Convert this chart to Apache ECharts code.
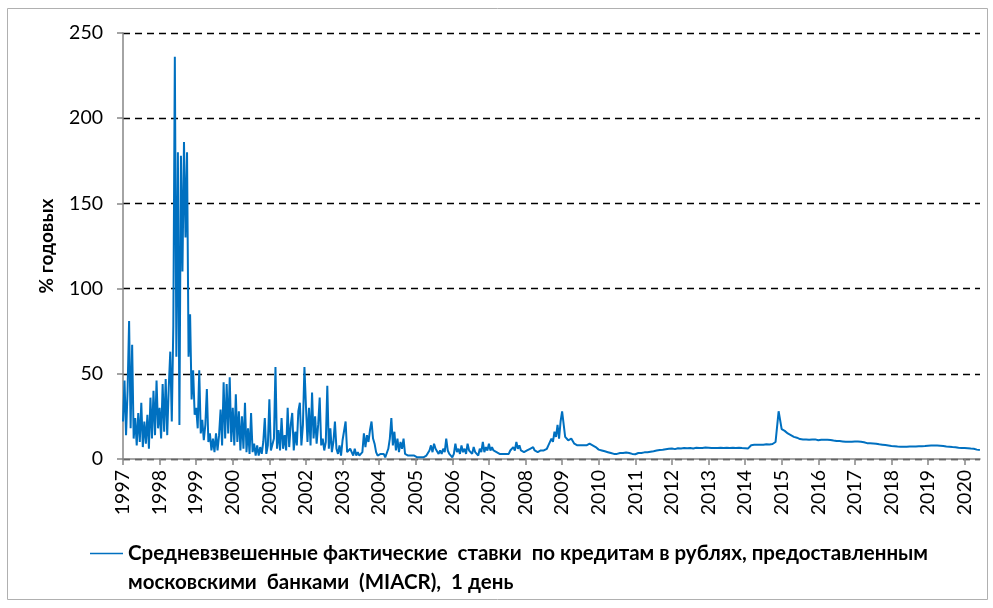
<!DOCTYPE html>
<html>
<head>
<meta charset="utf-8">
<script src="https://cdn.jsdelivr.net/npm/echarts@6/dist/echarts.min.js"></script>
<style>
html, body { margin: 0; padding: 0; background: #fff; }
#main { width: 993px; height: 608px; }
</style>
</head>
<body>
<div id="main"></div>
<script>
// MIACR 1-day rates, % p.a.
// 1997-2008: two values per month (step 1/24 year)
var rates1997 = [22, 46, 14, 40, 81, 18, 67, 12, 24, 8, 27, 10, 33, 7, 22, 9, 26, 6, 36, 12, 40, 14, 46, 18];
var rates1998 = [30, 12, 44, 16, 47, 14, 42, 63, 22, 78, 236, 60, 180, 20, 178, 110, 186, 130, 180, 60, 85, 35, 52, 26];
var rates1999 = [30, 18, 52, 15, 23, 11, 20, 41, 10, 15, 5, 12, 4, 15, 5, 14, 29, 8, 45, 12, 44, 15, 48, 10];
var rates2000 = [30, 8, 38, 10, 28, 5, 25, 6, 33, 4, 18, 3, 27, 4, 9, 2, 8, 2, 7, 3, 10, 24, 3, 8];
var rates2001 = [35, 5, 4, 12, 54, 6, 17, 5, 24, 6, 14, 5, 30, 7, 20, 27, 5, 16, 8, 28, 33, 8, 20, 54];
var rates2002 = [31, 10, 30, 8, 39, 12, 25, 9, 20, 36, 8, 12, 5, 10, 43, 6, 18, 4, 10, 22, 6, 3, 8, 2];
var rates2003 = [11, 12, 22, 4, 3, 6, 5, 2, 6, 2, 4, 2, 3, 4, 15, 7, 14, 10, 17, 22, 12, 9, 4, 2];
var rates2004 = [2, 3, 2, 3, 1, 2, 6, 12, 24, 8, 16, 5, 12, 4, 10, 6, 12, 3, 4, 2, 1, 2, 1, 2];
var rates2005 = [2, 1, 2, 1, 2, 1, 1, 2, 3, 5, 8, 4, 9, 6, 7, 3, 5, 3, 6, 4, 12, 5, 3, 2];
var rates2006 = [1, 3, 9, 4, 6, 3, 8, 4, 6, 3, 9, 5, 6, 3, 7, 4, 5, 2, 6, 4, 10, 4, 7, 5];
var rates2007 = [9, 5, 7, 5, 6, 4, 5, 3, 4, 3, 4, 3, 4, 3, 5, 4, 7, 5, 10, 6, 8, 5, 6, 4];
var rates2008 = [4, 5, 5, 6, 5, 7, 5, 6, 4, 5, 5, 6, 5, 6, 6, 8, 9, 12, 10, 16, 13, 20, 12, 22];
// 2009-2020: monthly
var rates2009 = [28, 13, 11, 12, 9, 8, 8, 8, 8, 9, 8, 7];
var rates2010 = [5.5, 5, 4.5, 4, 3.5, 3, 3, 3.5, 3.5, 3.8, 3.5, 3];
var rates2011 = [2.8, 3.5, 3.5, 3.9, 4, 4.3, 4.5, 5, 5.3, 5.4, 5.7, 6];
var rates2012 = [6.1, 5.8, 6.3, 6.2, 6.4, 6.3, 6.5, 6.2, 6.6, 6.4, 6.5, 6.7];
var rates2013 = [6.6, 6.4, 6.5, 6.5, 6.6, 6.5, 6.6, 6.5, 6.6, 6.5, 6.6, 6.4];
var rates2014 = [6.3, 6.2, 8.1, 8.3, 8.3, 8.4, 8.3, 8.6, 8.5, 8.8, 10, 28];
var rates2015 = [17.5, 16.5, 15, 14, 13, 12.5, 11.7, 11.5, 11.4, 11.3, 11.4, 11.5];
var rates2016 = [11, 11.3, 11.3, 11.3, 11.2, 10.8, 10.5, 10.5, 10.3, 10.1, 10.1, 10.1];
var rates2017 = [10.2, 10.2, 10.1, 9.8, 9.3, 9.2, 9.1, 9, 8.6, 8.4, 8.2, 7.9];
var rates2018 = [7.6, 7.5, 7.3, 7.2, 7.2, 7.2, 7.3, 7.3, 7.4, 7.5, 7.5, 7.6];
var rates2019 = [7.8, 7.9, 7.9, 7.9, 7.8, 7.6, 7.3, 7.2, 7, 6.9, 6.6, 6.5];
var rates2020 = [6.4, 6.3, 6.1, 6, 5.5, 5.3];

var yearTicks = [1997, 1998, 1999, 2000, 2001, 2002, 2003, 2004, 2005, 2006, 2007, 2008,
    2009, 2010, 2011, 2012, 2013, 2014, 2015, 2016, 2017, 2018, 2019, 2020];

var seriesName = "Средневзвешенные фактические  ставки  по кредитам в рублях, предоставленным московскими  банками  (MIACR),  1 день";
var legendLine1 = "Средневзвешенные фактические  ставки  по кредитам в рублях, предоставленным";
var legendLine2 = "московскими  банками  (MIACR),  1 день";

var semiMonthly = [rates1997, rates1998, rates1999, rates2000, rates2001, rates2002,
    rates2003, rates2004, rates2005, rates2006, rates2007, rates2008];
var monthly = [rates2009, rates2010, rates2011, rates2012, rates2013, rates2014,
    rates2015, rates2016, rates2017, rates2018, rates2019, rates2020];

var points = [];
semiMonthly.forEach(function (arr, y) {
    arr.forEach(function (v, i) { points.push([1997 + y + i / 24, v]); });
});
monthly.forEach(function (arr, y) {
    arr.forEach(function (v, i) { points.push([2009 + y + i / 12, v]); });
});

var FONT = "Lato";

var myChart = echarts.init(document.getElementById("main"), null, { renderer: "canvas" });
var option = {
    backgroundColor: "#fff",
    animation: false,
    textStyle: { fontFamily: FONT },
    graphic: [
        {
            type: "rect",
            shape: { x: 7.5, y: 8.5, width: 980, height: 591 },
            style: { fill: "none", stroke: "#b0b0b0", lineWidth: 1 },
            silent: true,
        },
    ],
    grid: {
        left: 123,
        right: 13,
        top: 33,
        bottom: 149,
    },
    legend: {
        left: 90,
        top: 510,
        padding: 0,
        icon: "rect",
        itemWidth: 33,
        itemHeight: 1.5,
        data: [seriesName],
        formatter: function () {
            return "\n" + legendLine1 + "\n" + legendLine2;
        },
        textStyle: {
            fontFamily: FONT,
            fontWeight: "bold",
            fontSize: 20.5,
            lineHeight: 29,
            color: "#000",
        },
    },
    xAxis: {
        type: "value",
        min: 1997,
        max: 2020.42,
        interval: 1,
        axisLine: { lineStyle: { color: "#868686", width: 1.5 } },
        axisTick: {
            show: true,
            length: 6,
            customValues: yearTicks,
            lineStyle: { color: "#868686", width: 1.5 },
        },
        axisLabel: {
            rotate: 90,
            margin: 11,
            customValues: yearTicks,
            fontSize: 19.5,
            fontFamily: FONT,
            color: "#000",
            formatter: function (v) { return String(v); },
        },
        splitLine: { show: false },
    },
    yAxis: {
        type: "value",
        min: 0,
        max: 250,
        interval: 50,
        name: "% годовых",
        nameLocation: "middle",
        nameRotate: 90,
        nameGap: 67,
        nameTextStyle: {
            fontFamily: FONT,
            fontWeight: "bold",
            fontSize: 19,
            color: "#000",
        },
        axisLine: { show: true, lineStyle: { color: "#868686", width: 1.5 } },
        axisTick: { show: true, length: 6, lineStyle: { color: "#868686", width: 1.5 } },
        axisLabel: {
            margin: 20,
            fontSize: 19.5,
            fontFamily: FONT,
            color: "#000",
        },
        splitLine: {
            show: true,
            lineStyle: { color: "#000", width: 1.3, type: [7, 5] },
        },
    },
    series: [
        {
            name: seriesName,
            type: "line",
            symbol: "none",
            sampling: null,
            lineStyle: { color: "#0070C0", width: 2 },
            itemStyle: { color: "#0070C0" },
            data: points,
        },
    ],
};
option && myChart.setOption(option);
</script>
</body>
</html>
